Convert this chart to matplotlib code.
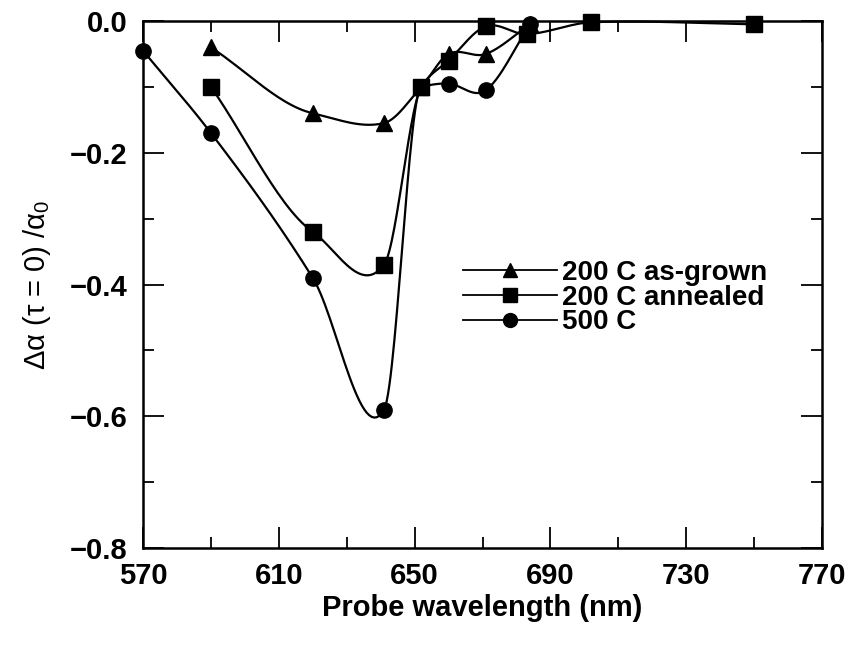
import numpy as np
import matplotlib.pyplot as plt

plt.rcParams['font.family'] = ['Liberation Sans', 'DejaVu Sans']
plt.rcParams['mathtext.fontset'] = 'custom'
plt.rcParams['mathtext.rm'] = 'Liberation Sans'
plt.rcParams['mathtext.it'] = 'Liberation Sans'

# data
wl_grown = [590, 620, 641, 652, 660, 671, 684]
da_grown = [-0.04, -0.14, -0.155, -0.10, -0.05, -0.05, -0.005]

wl_annealed = [590, 620, 641, 652, 660, 671, 683, 702, 750]
da_annealed = [-0.10, -0.32, -0.37, -0.10, -0.06, -0.008, -0.02, -0.002, -0.005]

wl_500 = [570, 590, 620, 641, 652, 660, 671, 684]
da_500 = [-0.045, -0.17, -0.39, -0.59, -0.10, -0.095, -0.105, -0.005]

labels = ['200 C as-grown', '200 C annealed', '500 C']


def smooth(x, y, n=30):
    # cubic Hermite curve through the points
    x = np.asarray(x, float)
    y = np.asarray(y, float)
    d = np.diff(y) / np.diff(x)
    m = np.empty_like(y)
    m[0], m[-1] = d[0], d[-1]
    for i in range(1, len(x) - 1):
        if d[i - 1] * d[i] > 0:
            m[i] = 2 / (1 / d[i - 1] + 1 / d[i])
        else:
            m[i] = (y[i + 1] - y[i - 1]) / (x[i + 1] - x[i - 1])
    xs, ys = [], []
    for i in range(len(x) - 1):
        h = x[i + 1] - x[i]
        t = np.linspace(0, 1, n)
        h00 = 2 * t**3 - 3 * t**2 + 1
        h10 = t**3 - 2 * t**2 + t
        h01 = -2 * t**3 + 3 * t**2
        h11 = t**3 - t**2
        xs.append(x[i] + t * h)
        ys.append(h00 * y[i] + h10 * h * m[i] + h01 * y[i + 1] + h11 * h * m[i + 1])
    return np.concatenate(xs), np.concatenate(ys)


fig = plt.figure(figsize=(8.53, 6.51), dpi=100)
ax = fig.add_axes([143 / 853, 1 - 548 / 651, 679 / 853, 527 / 651])

series = [(wl_grown, da_grown, '^'), (wl_annealed, da_annealed, 's'), (wl_500, da_500, 'o')]
for (x, y, mk), lab in zip(series, labels):
    xs, ys = smooth(x, y)
    ax.plot(xs, ys, color='black', lw=1.6, clip_on=False)
    ax.plot(x, y, mk, color='black', ms=11, clip_on=False)
    ax.plot([], [], '-', marker=mk, color='black', lw=1.3, ms=10, label=lab)

ax.set_xlim(570, 770)
ax.set_ylim(-0.8, 0.0)
ax.set_xticks(np.arange(570, 771, 40))
ax.set_xticks(np.arange(590, 771, 40), minor=True)
ax.set_yticks(np.arange(-0.8, 0.01, 0.2))
ax.set_yticks(np.arange(-0.7, 0.0, 0.2), minor=True)
ax.yaxis.set_major_formatter(plt.FuncFormatter(lambda v, p: f'{v:.1f}'.replace('-', '\u2212') if abs(v) > 1e-9 else '0.0'))
ax.tick_params(which='both', direction='in', top=True, right=True, width=1.3)
ax.tick_params(which='major', length=15, labelsize=21)
ax.tick_params(which='minor', length=8)
ax.tick_params(axis='y', pad=11)
ax.tick_params(axis='x', pad=10)
for lbl in ax.get_xticklabels() + ax.get_yticklabels():
    lbl.set_fontweight('bold')
for s in ax.spines.values():
    s.set_linewidth(1.8)

ax.set_xlabel('Probe wavelength (nm)', fontsize=21, fontweight='bold', labelpad=3)
ax.set_ylabel('\u0394\u03b1 (\u03c4 = 0) /\u03b1$_0$', fontsize=21, labelpad=12)

leg = ax.legend(loc='center left', bbox_to_anchor=(0.472, 0.475), frameon=False,
                borderpad=0, borderaxespad=0, handlelength=3.35, handletextpad=0.2,
                labelspacing=-0.05, prop={'size': 20, 'weight': 'bold'})

fig.savefig('out.png', dpi=100)
